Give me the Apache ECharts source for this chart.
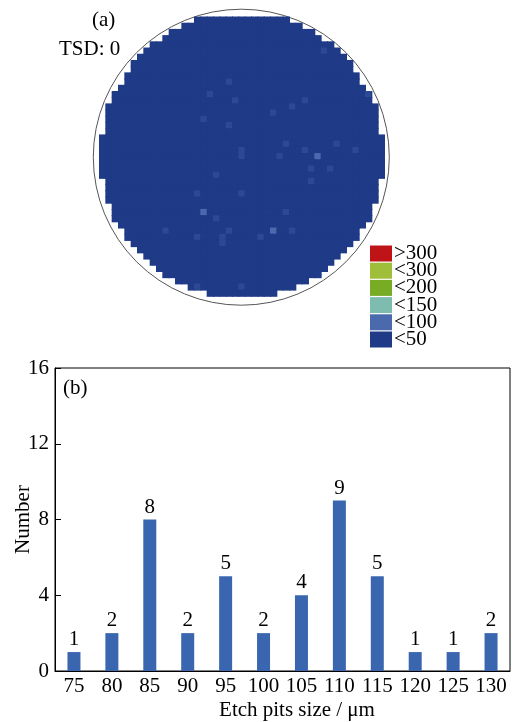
<!DOCTYPE html>
<html>
<head>
<meta charset="utf-8">
<script src="https://cdn.jsdelivr.net/npm/echarts@6/dist/echarts.min.js"></script>
<style>
html, body { margin: 0; padding: 0; background: #fff; }
#chart { width: 516px; height: 722px; }
</style>
</head>
<body>
<div id="chart"></div>
<script>
// (a) wafer map: first / last filled column of every grid row (45 x 45 cells)
var waferRowStart = [15,13,11,10,8,7,6,5,5,4,4,3,2,2,1,1,1,1,1,0,0,0,0,0,0,0,1,1,1,1,2,2,2,3,4,4,5,6,7,8,9,10,12,14,17];
var waferRowEnd = [29,31,33,34,36,37,38,39,39,40,40,41,42,42,43,43,43,43,43,44,44,44,44,44,44,44,43,43,43,43,42,42,42,41,40,40,39,38,37,36,35,34,32,30,27];
// cells in the "<100" class [col, row]
var brightCells = [[34,22],[16,31],[27,34]];
// slightly lighter "<50" cells [col, row]
var faintCells = [
  [20,10],[17,12],[21,13],[32,13],[30,14],[27,15],[16,16],[20,17],[37,20],[29,20],
  [22,21],[32,21],[40,21],[22,22],[28,22],[36,24],[33,24],[18,25],[33,26],[15,28],
  [22,28],[29,31],[18,32],[10,34],[20,34],[30,34],[15,35],[19,35],[19,36],[25,35],
  [35,5],[15,43],[22,43],[42,12]
];
var densityLabels = ['<50', '<100', '<150', '<200', '<300', '>300'];
var densityBounds = [0, 50, 100, 150, 200, 300];
var baseValue = 20;
var brightValue = 75;
var faintValue = 30;

// (b) histogram
var pitSizes = ['75','80','85','90','95','100','105','110','115','120','125','130'];
var pitCounts = [1, 2, 8, 2, 5, 2, 4, 9, 5, 1, 1, 2];

var font = '"Liberation Serif", "Times New Roman", serif';
var levelColors = ['#1f3a86', '#4a6aad', '#7fbcb0', '#77ac24', '#9fbe3a', '#be1418'];

var chart = echarts.init(document.getElementById('chart'));

var gridIdx = [];
for (var i = 0; i < waferRowStart.length; i++) gridIdx.push(String(i));

var brightSet = {};
brightCells.forEach(function (c) { brightSet[c[0] + '_' + c[1]] = true; });

var waferData = [];
for (var r = 0; r < waferRowStart.length; r++) {
  for (var c = waferRowStart[r]; c <= waferRowEnd[r]; c++) {
    waferData.push([c, r, brightSet[c + '_' + r] ? brightValue : baseValue]);
  }
}
var faintData = faintCells.map(function (c) { return [c[0], c[1], faintValue]; });

var pieces = densityLabels.map(function (lab, i) {
  var p = { min: densityBounds[i], label: lab, color: levelColors[i] };
  if (i + 1 < densityBounds.length) p.max = densityBounds[i + 1] - 0.001;
  return p;
});

// draw a wafer cell slightly overlapped so no seams show
function cellItem(fixedColor, pad) {
  return function (params, api) {
    var p = api.coord([api.value(0), api.value(1)]);
    var s = api.size([1, 1]);
    return {
      type: 'rect',
      shape: { x: p[0] - s[0] / 2, y: p[1] - s[1] / 2, width: s[0] + pad, height: s[1] + pad },
      style: { fill: fixedColor || api.visual('color') },
      silent: true
    };
  };
}

var textBase = { fontFamily: font, fontSize: 21, fontWeight: 'normal', color: '#000' };

var option = {
  animation: false,
  title: [
    { text: '(a)', left: 92, top: 10, padding: 0, textStyle: textBase },
    { text: 'TSD: 0', left: 59, top: 39, padding: 0, textStyle: textBase },
    { text: '(b)', left: 63, top: 378, padding: 0, textStyle: textBase }
  ],
  graphic: [
    {
      type: 'circle', silent: true, z: 0,
      shape: { cx: 241.3, cy: 157.2, r: 148 },
      style: { fill: 'none', stroke: '#555', lineWidth: 1 }
    }
  ],
  visualMap: {
    type: 'piecewise',
    seriesIndex: 0,
    dimension: 2,
    pieces: pieces,
    orient: 'vertical',
    align: 'left',
    left: 370,
    top: 243,
    padding: 0,
    itemWidth: 22,
    itemHeight: 16,
    itemGap: -3.8,
    itemSymbol: 'rect',
    textGap: 2,
    selectedMode: false,
    hoverLink: false,
    textStyle: { fontFamily: font, fontSize: 21, color: '#000' }
  },
  grid: [
    { left: 99, top: 16.5, width: 285, height: 279.3 },
    { left: 55, right: 6, top: 368, bottom: 51, show: true, borderColor: '#000', borderWidth: 1 }
  ],
  xAxis: [
    { gridIndex: 0, type: 'category', data: gridIdx, show: false },
    {
      gridIndex: 1, type: 'category', data: pitSizes,
      axisLine: { lineStyle: { color: '#000', width: 1 } },
      axisTick: { show: false },
      axisLabel: { fontFamily: font, fontSize: 21, color: '#000', margin: 5, interval: 0 },
      name: 'Etch pits size / \u03bcm',
      nameLocation: 'middle',
      nameGap: 29,
      nameMoveOverlap: false,
      nameTextStyle: { fontFamily: font, fontSize: 21, color: '#000', padding: [0, 0, 0, 29] }
    }
  ],
  yAxis: [
    { gridIndex: 0, type: 'category', data: gridIdx, inverse: true, show: false },
    {
      gridIndex: 1, type: 'value', min: 0, max: 16, interval: 4,
      axisLine: { show: true, lineStyle: { color: '#000', width: 1 } },
      axisTick: { show: true, inside: true, length: 6, lineStyle: { color: '#000' } },
      splitLine: { show: false },
      axisLabel: { fontFamily: font, fontSize: 21, color: '#000', margin: 6 },
      name: 'Number',
      nameLocation: 'middle',
      nameGap: 21,
      nameMoveOverlap: false,
      nameTextStyle: { fontFamily: font, fontSize: 21, color: '#000' }
    }
  ],
  series: [
    {
      type: 'custom',
      coordinateSystem: 'cartesian2d',
      xAxisIndex: 0, yAxisIndex: 0,
      data: waferData,
      renderItem: cellItem(null, 1),
      z: 2
    },
    {
      type: 'custom',
      coordinateSystem: 'cartesian2d',
      xAxisIndex: 0, yAxisIndex: 0,
      data: faintData,
      renderItem: cellItem('#2b4994', 0),
      z: 3
    },
    {
      type: 'bar',
      xAxisIndex: 1, yAxisIndex: 1,
      data: pitCounts,
      barWidth: 13,
      itemStyle: { color: '#3a66b0' },
      label: {
        show: true, position: 'top', distance: 2,
        fontFamily: font, fontSize: 21, color: '#000'
      }
    }
  ]
};

chart.setOption(option);
</script>
</body>
</html>
